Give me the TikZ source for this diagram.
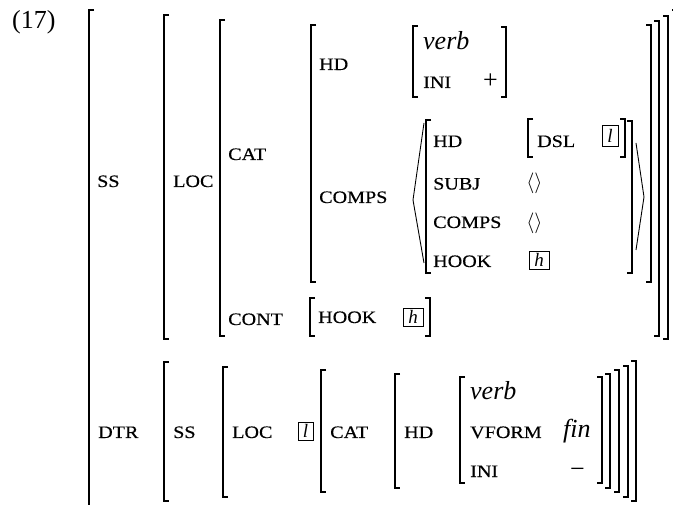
\documentclass[tikz,border=0pt]{standalone}
\usepackage{fontspec}
\setmainfont{Liberation Serif}
\newfontfamily\featfont[FakeStretch=1.15,FakeBold=0.4]{Liberation Serif}
% left / right AVM brackets: x, top y, bottom y
\newcommand\avmL[3]{\draw[brk] ({#1+5},#2) -- (#1,#2) -- (#1,#3) -- ({#1+5},#3);}
\newcommand\avmR[3]{\draw[brk] ({#1-5},#2) -- (#1,#2) -- (#1,#3) -- ({#1-5},#3);}
\begin{document}
\begin{tikzpicture}[x=1pt,y=-1pt,
  brk/.style={line width=1.5pt},
  ang/.style={line width=0.9pt},
  feat/.style={font=\featfont\fontsize{17.5}{20}\selectfont, anchor=base west, inner sep=0pt},
  val/.style={font=\fontsize{26}{30}\selectfont\itshape, anchor=base west, inner sep=0pt},
  sym/.style={font=\fontsize{26}{30}\selectfont, anchor=base west, inner sep=0pt},
  elist/.style={font=\fontsize{20}{24}\selectfont, anchor=center, inner sep=0pt},
  tag/.style={draw, line width=0.7pt, font=\fontsize{19}{22}\selectfont\itshape, inner sep=0pt, minimum width=18pt, minimum height=18pt},
  ]
\clip (0,0) rectangle (673,505);

% example number
\node[sym] (num) at (12,28.5) {(17)};

% outermost matrix
\avmL{89}{10}{520}
\avmR{677}{10}{520}

% ---------- SS ----------
\node[feat] (ss) at (97,187) {SS};
\avmL{164}{15}{339}
\avmR{668}{16}{339}
\node[feat] (loc) at (173,187) {LOC};
\avmL{220}{20}{336}
\avmR{659}{21}{336}

% CAT value
\node[feat] (cat) at (228,160) {CAT};
\avmL{311}{25}{282}
\avmR{651}{25}{282}

\node[feat] (hd) at (319,70) {HD};
\avmL{413}{26}{97}
\avmR{506}{27}{97}
\node[val] (verb) at (423,50) {verb};
\node[feat] (ini) at (423,88) {INI};
\node[sym] (plus) at (483,88.5) {+};

\node[feat] (comps) at (319,203) {COMPS};
\draw[ang] (424,123) -- (413,200) -- (424,263);
\draw[ang] (636,143) -- (644,197) -- (636,250);
\avmL{426}{120}{273}
\avmR{632}{121}{273}

\node[feat] (ehd) at (433,147) {HD};
\avmL{528}{119}{157}
\avmR{625}{119}{157}
\node[feat] (dsl) at (537,147) {DSL};
\node[tag, minimum width=16pt, minimum height=21pt] (tl1) at (610,136) {l};

\node[feat] (subj) at (433,189.5) {SUBJ};
\node[elist] (subjv) at (534.5,183) {$\langle\rangle$};
\node[feat] (ecomps) at (433,228) {COMPS};
\node[elist] (compsv) at (534.5,223) {$\langle\rangle$};
\node[feat] (ehook) at (433,267) {HOOK};
\node[tag, minimum width=20pt] (th1) at (539,260) {h};

% CONT value
\node[feat] (cont) at (228,325) {CONT};
\avmL{310}{298}{336}
\avmR{430}{298}{336}
\node[feat] (chook) at (318,323) {HOOK};
\node[tag, minimum width=20pt] (th2) at (413,317) {h};

% ---------- DTR ----------
\node[feat] (dtr) at (98,438) {DTR};
\avmL{164}{362}{501}
\avmR{636}{361}{501}
\node[feat] (dss) at (173,438) {SS};
\avmL{223}{367}{497}
\avmR{628}{366}{497}
\node[feat] (dloc) at (232,438) {LOC};
\node[tag, minimum width=15pt] (tl2) at (305.5,431) {l};
\avmL{321}{370}{492}
\avmR{619}{370}{492}
\node[feat] (dcat) at (330,438) {CAT};
\avmL{395}{374}{488}
\avmR{610}{374}{488}
\node[feat] (dhd) at (404,438) {HD};
\avmL{460}{377}{483}
\avmR{602}{377}{483}
\node[val] (dverb) at (470,400) {verb};
\node[feat] (vform) at (470,438) {VFORM};
\node[val] (fin) at (563,438) {fin};
\node[feat] (dini) at (470,477) {INI};
\node[sym] (minus) at (570,477) {−};
\end{tikzpicture}
\end{document}
